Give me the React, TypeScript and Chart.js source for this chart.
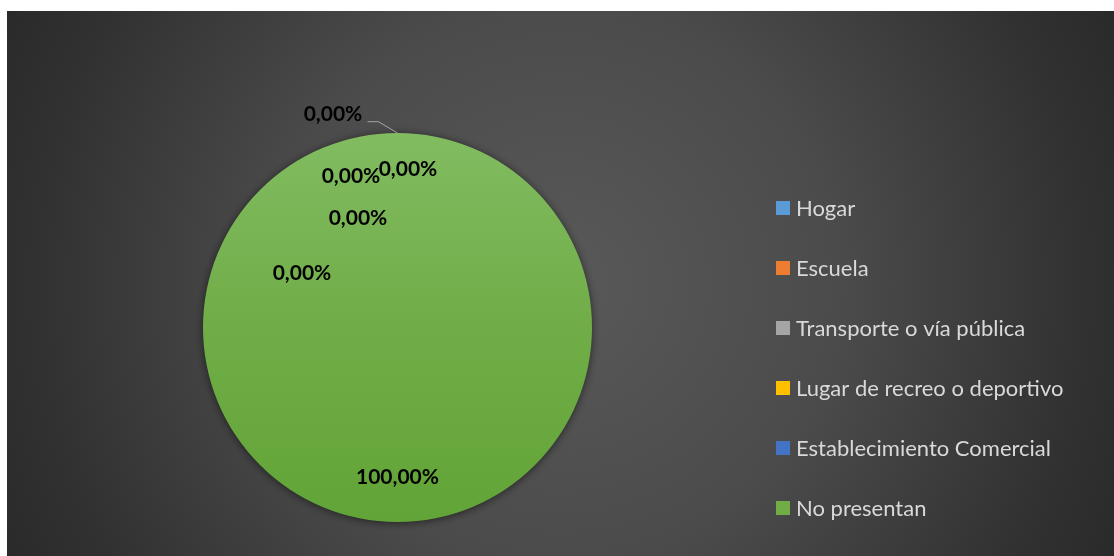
import React, { useEffect, useRef } from "react";
import { Chart, registerables } from "chart.js";

Chart.register(...registerables);

const categories = [
  "Hogar",
  "Escuela",
  "Transporte o vía pública",
  "Lugar de recreo o deportivo",
  "Establecimiento Comercial",
  "No presentan",
];
const values = [0, 0, 0, 0, 0, 100];
const valueLabels = ["0,00%", "0,00%", "0,00%", "0,00%", "0,00%", "100,00%"];
const colors = ["#5b9bd5", "#ed7d31", "#a5a5a5", "#ffc000", "#4472c4", "#70ad47"];

const W = 1107;
const H = 545;

// label placement relative to each slice's anchor (radius factor at mid angle + offset)
const labelPlacement = [
  { rf: 1, dx: -64.5, dy: -19, leader: [[-30, -11.3], [-19, -11.3], [0, 0]] },
  { rf: 1, dx: -46.5, dy: 43 },
  { rf: 1, dx: 10.5, dy: 36 },
  { rf: 1, dx: -39.5, dy: 85 },
  { rf: 1, dx: -95.5, dy: 140 },
  { rf: 0.77, dx: 0, dy: 0 },
];

const bgPlugin = {
  id: "bg",
  beforeDraw(chart: any) {
    const { ctx, width, height } = chart;
    const cx = width / 2;
    const cy = height / 2;
    const g = ctx.createRadialGradient(cx, cy, 0, cx, cy, 620);
    g.addColorStop(0, "#595959");
    g.addColorStop(0.45, "#4b4b4b");
    g.addColorStop(0.85, "#313131");
    g.addColorStop(1, "#2a2a2a");
    ctx.save();
    ctx.fillStyle = g;
    ctx.fillRect(0, 0, width, height);
    ctx.restore();
  },
  beforeDatasetsDraw(chart: any) {
    const ctx = chart.ctx;
    ctx.save();
    ctx.shadowColor = "rgba(0,0,0,0.55)";
    ctx.shadowBlur = 9;
    ctx.shadowOffsetX = 0;
    ctx.shadowOffsetY = 1;
  },
  afterDatasetsDraw(chart: any) {
    chart.ctx.restore();
  },
};

const labelPlugin = {
  id: "sliceLabels",
  afterDraw(chart: any) {
    const { ctx } = chart;
    const meta = chart.getDatasetMeta(0);
    ctx.save();
    meta.data.forEach((arc: any, i: number) => {
      const p = arc.getProps(["x", "y", "startAngle", "endAngle", "outerRadius"], true);
      const mid = (p.startAngle + p.endAngle) / 2;
      const pl = labelPlacement[i];
      const ax = p.x + Math.cos(mid) * p.outerRadius * pl.rf;
      const ay = p.y + Math.sin(mid) * p.outerRadius * pl.rf;
      if (pl.leader) {
        ctx.beginPath();
        ctx.strokeStyle = "#a6a6a6";
        ctx.lineWidth = 1;
        pl.leader.forEach((pt: number[], k: number) => {
          if (k === 0) ctx.moveTo(ax + pt[0], ay + pt[1]);
          else ctx.lineTo(ax + pt[0], ay + pt[1]);
        });
        ctx.stroke();
      }
      ctx.fillStyle = "#000000";
      ctx.font = "bold 21px Lato";
      ctx.textAlign = "center";
      ctx.textBaseline = "middle";
      ctx.fillText(valueLabels[i], ax + pl.dx, ay + pl.dy);
    });
    ctx.restore();
  },
};

const legendPlugin = {
  id: "sideLegend",
  afterDraw(chart: any) {
    const { ctx } = chart;
    const x0 = 769;
    const y0 = 197;
    const step = 60;
    const box = 14;
    ctx.save();
    ctx.font = "22px Lato";
    ctx.textBaseline = "middle";
    ctx.textAlign = "left";
    chart.data.labels.forEach((lab: string, i: number) => {
      const y = y0 + i * step;
      ctx.fillStyle = colors[i];
      ctx.fillRect(x0, y - box / 2, box, box);
      ctx.fillStyle = "#d9d9d9";
      ctx.fillText(lab, x0 + 20, y + 1);
    });
    ctx.restore();
  },
};

export default function App() {
  const ref = useRef<HTMLCanvasElement>(null);
  useEffect(() => {
    if (!ref.current) return;
    const chart = new Chart(ref.current, {
      type: "pie",
      data: {
        labels: categories,
        datasets: [
          {
            data: values,
            backgroundColor: (c: any) => {
              const i = c.dataIndex;
              if (i !== 5) return colors[i];
              const area = c.chart.chartArea;
              if (!area) return colors[i];
              const g = c.chart.ctx.createLinearGradient(0, area.top, 0, area.bottom);
              g.addColorStop(0, "#81bc61");
              g.addColorStop(0.5, "#70ad47");
              g.addColorStop(1, "#62a437");
              return g;
            },
            borderWidth: 0,
          },
        ],
      },
      options: {
        responsive: false,
        animation: false,
        devicePixelRatio: 1,
        layout: { padding: { left: 196, right: 522, top: 122, bottom: 34 } },
        plugins: {
          legend: { display: false },
          tooltip: { enabled: false },
        },
      },
      plugins: [bgPlugin, labelPlugin, legendPlugin],
    });
    return () => chart.destroy();
  }, []);
  return (
    <div style={{ position: "absolute", left: 7, top: 11, width: W, height: H }}>
      <canvas ref={ref} width={W} height={H} style={{ display: "block" }} />
    </div>
  );
}
